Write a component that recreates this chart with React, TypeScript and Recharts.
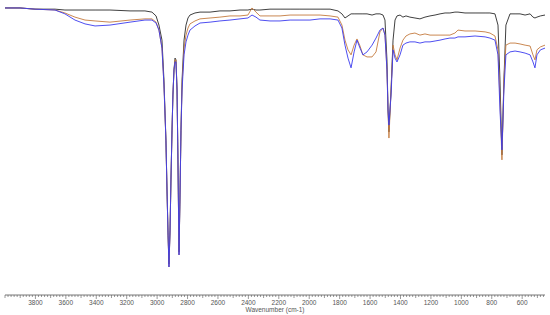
import React from "react";
import { LineChart, Line, XAxis, YAxis, Label } from "recharts";

// Wavenumber (cm-1) sample positions
const wavenumbers = [
  4000, 3901, 3803, 3671, 3606, 3540, 3474, 3408, 3310, 3178,
  3080, 3034, 3007, 2988, 2968, 2955, 2942, 2935, 2928, 2922,
  2915, 2909, 2902, 2896, 2889, 2882, 2876, 2869, 2863, 2856,
  2850, 2843, 2836, 2823, 2810, 2797, 2784, 2751, 2718, 2652,
  2587, 2521, 2455, 2403, 2376, 2350, 2324, 2258, 2192, 2126,
  2061, 1995, 1929, 1863, 1811, 1785, 1765, 1745, 1725, 1705,
  1686, 1666, 1647, 1620, 1587, 1561, 1535, 1515, 1502, 1489,
  1482, 1476, 1462, 1449, 1436, 1423, 1403, 1384, 1364, 1338,
  1305, 1272, 1239, 1206, 1173, 1140, 1107, 1075, 1042, 1022,
  976, 910, 844, 812, 779, 759, 746, 733, 720, 707,
  680, 647, 614, 581, 548, 529, 516, 503, 480, 450,
];

// Transmittance (%) – black spectrum
const blackSeries = [
  97.3, 97.3, 96.9, 96.9, 96.6, 96.6, 96.6, 96.6, 96.6, 96.3,
  96.3, 95.9, 94.6, 91.5, 86.4, 72.9, 52.5, 35.6, 20.3, 10.5,
  22.0, 39.0, 55.9, 67.8, 76.3, 80.3, 79.7, 69.5, 45.8, 14.6,
  32.2, 55.9, 72.9, 86.4, 91.5, 93.9, 94.9, 95.6, 95.9, 95.9,
  96.3, 96.3, 96.6, 96.6, 96.9, 96.6, 96.6, 96.9, 96.9, 96.9,
  96.9, 96.9, 96.9, 96.9, 96.3, 95.3, 93.9, 94.6, 95.3, 95.3,
  95.3, 95.3, 95.3, 95.3, 94.9, 95.3, 95.3, 94.9, 93.2, 79.7,
  62.7, 55.3, 69.5, 86.4, 93.2, 94.6, 94.9, 94.2, 94.6, 94.2,
  93.9, 93.6, 94.2, 94.6, 94.9, 95.3, 95.6, 95.6, 95.9, 95.9,
  95.6, 95.6, 95.6, 95.6, 95.3, 91.5, 72.9, 47.5, 72.9, 91.5,
  95.3, 95.3, 95.3, 94.9, 95.3, 94.2, 93.9, 94.2, 94.6, 94.9,
];

// Transmittance (%) – brown/orange spectrum
const redSeries = [
  97.3, 97.3, 96.9, 96.6, 95.6, 94.2, 93.2, 92.9, 92.5, 93.2,
  93.6, 93.6, 92.5, 89.8, 83.7, 71.2, 52.5, 35.6, 20.3, 9.5,
  22.0, 39.0, 55.9, 67.8, 76.3, 79.7, 79.7, 69.5, 45.8, 13.6,
  32.2, 55.9, 71.2, 83.7, 88.1, 90.5, 91.9, 92.9, 93.6, 93.9,
  94.2, 94.6, 94.6, 94.9, 97.3, 95.9, 94.6, 94.6, 94.6, 94.9,
  94.9, 94.9, 94.9, 94.6, 94.2, 91.5, 86.4, 83.1, 81.4, 84.7,
  86.8, 84.4, 81.4, 80.7, 80.7, 82.4, 89.2, 90.5, 88.1, 76.3,
  62.7, 53.2, 69.5, 84.7, 81.4, 79.7, 83.7, 86.4, 87.8, 88.5,
  88.8, 88.1, 88.5, 88.1, 88.1, 88.1, 88.1, 88.1, 88.8, 89.8,
  89.5, 89.5, 89.2, 88.8, 87.8, 83.1, 66.1, 45.8, 72.9, 84.7,
  85.4, 85.4, 85.1, 84.7, 84.4, 81.4, 79.7, 83.1, 84.1, 84.7,
];

// Transmittance (%) – blue spectrum
const blueSeries = [
  97.3, 97.3, 96.9, 96.6, 95.3, 93.2, 91.9, 91.2, 91.5, 92.5,
  93.2, 93.2, 92.2, 89.8, 83.7, 71.2, 52.5, 35.6, 20.3, 9.5,
  22.0, 39.0, 55.9, 67.8, 76.3, 79.0, 79.0, 69.5, 45.8, 13.6,
  32.2, 55.9, 69.5, 81.4, 85.8, 88.1, 89.8, 91.2, 92.2, 92.5,
  92.9, 93.2, 93.6, 93.9, 94.9, 94.2, 93.2, 92.9, 92.9, 93.2,
  93.2, 93.2, 93.6, 93.6, 93.2, 90.5, 84.7, 80.3, 77.0, 82.4,
  86.4, 83.7, 81.4, 82.4, 84.7, 87.1, 89.8, 90.5, 88.1, 76.3,
  62.7, 57.6, 67.8, 83.1, 80.3, 79.0, 81.4, 84.7, 85.4, 85.8,
  85.8, 85.4, 85.8, 85.8, 86.1, 86.4, 86.8, 87.1, 87.1, 87.5,
  87.5, 87.8, 87.5, 87.1, 86.4, 81.4, 62.7, 49.2, 69.5, 81.4,
  82.4, 82.7, 82.4, 82.0, 81.4, 79.0, 77.0, 81.4, 83.1, 83.7,
];

// Axis tick labels
const majorTickLabels = [3800, 3600, 3400, 3200, 3000, 2800, 2600, 2400, 2200, 2000, 1800, 1600, 1400, 1200, 1000, 800, 600];
const minorTickStep = 20;
const axisMin = 450;
const axisMax = 4000;

const allTicks: number[] = [];
for (let t = 460; t <= axisMax; t += minorTickStep) allTicks.push(t);

const data = wavenumbers.map((w, i) => ({
  w,
  black: blackSeries[i],
  red: redSeries[i],
  blue: blueSeries[i],
}));

const FONT = "'Liberation Sans', Arial, sans-serif";

const Tick = (props: any) => {
  const { x, y, payload } = props;
  const v = payload.value as number;
  const isMajor = majorTickLabels.includes(v);
  const isMid = v % 100 === 0;
  const len = isMajor ? 4 : isMid ? 3 : 2;
  return (
    <g>
      <line x1={x} x2={x} y1={y} y2={y + len} stroke="#555" strokeWidth={0.6} />
      {isMajor ? (
        <text x={x} y={y + 10} textAnchor="middle" fontSize={6.5} fill="#555" fontFamily={FONT}>
          {v}
        </text>
      ) : null}
    </g>
  );
};

export default function App() {
  return (
    <div style={{ position: "absolute", left: 0, top: 0, width: 550, height: 315, background: "#fff" }}>
      <LineChart width={550} height={315} data={data} margin={{ top: 0, right: 5, left: 5, bottom: 0 }}>
        <XAxis
          dataKey="w"
          type="number"
          domain={[axisMin, axisMax]}
          reversed
          ticks={allTicks}
          interval={0}
          tick={<Tick />}
          tickLine={false}
          tickSize={0}
          tickMargin={0}
          height={20}
          stroke="#555"
          strokeWidth={0.8}
          allowDataOverflow
        >
          <Label
            value="Wavenumber (cm-1)"
            position="insideBottom"
            offset={3}
            style={{ fontSize: 6.5, fill: "#555", fontFamily: FONT }}
          />
        </XAxis>
        <YAxis hide domain={[0, 100]} />
        <Line type="linear" dataKey="black" stroke="#2a2a2a" strokeWidth={0.9} dot={false} isAnimationActive={false} />
        <Line type="linear" dataKey="red" stroke="#c47a3e" strokeWidth={0.9} dot={false} isAnimationActive={false} />
        <Line type="linear" dataKey="blue" stroke="#3a3aee" strokeWidth={0.9} dot={false} isAnimationActive={false} />
      </LineChart>
    </div>
  );
}
